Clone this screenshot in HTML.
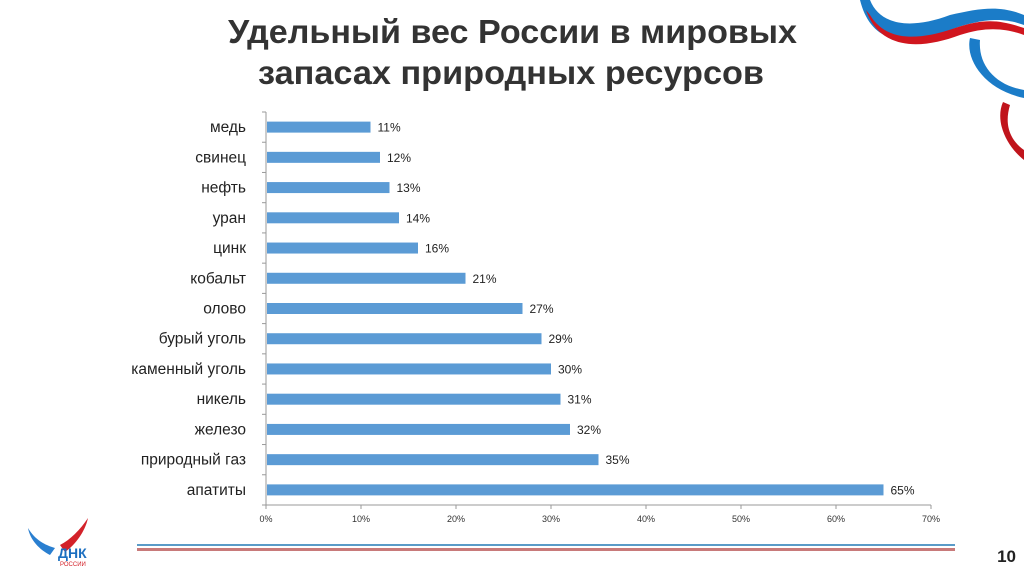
<!DOCTYPE html>
<html><head><meta charset="utf-8"><style>
body{margin:0;width:1024px;height:574px;background:#fff;overflow:hidden;font-family:"Liberation Sans",sans-serif}
</style></head><body>
<svg width="1024" height="574">
<g>
<path d="M860,0 C870,40 900,50 950,30 C990,15 1010,20 1024,25 L1024,15 C1000,5 980,8 950,15 C910,30 880,25 870,0Z" fill="#1b7cc8"/>
<path d="M866,10 C880,50 920,50 960,35 C990,25 1010,30 1024,35 L1024,28 C1000,20 985,18 955,28 C915,42 885,40 870,15Z" fill="#d0161e"/>
<path d="M970,38 C965,60 985,90 1024,98 L1024,90 C995,85 978,65 980,40Z" fill="#1b7cc8"/>
<path d="M1003,102 C995,120 1005,145 1024,160 L1024,150 C1010,140 1004,125 1010,105Z" fill="#c0141c"/>
</g>
<text x="228" y="43" textLength="569" lengthAdjust="spacingAndGlyphs" font-size="33" font-weight="bold" fill="#333">Удельный вес России в мировых</text>
<text x="258" y="84" textLength="506" lengthAdjust="spacingAndGlyphs" font-size="33" font-weight="bold" fill="#333">запасах природных ресурсов</text>
<g id="chart"></g>
<g>
<path d="M28,528 C35,540 45,545 55,548 L50,555 C40,550 30,540 28,528Z" fill="#2a7fd0"/>
<path d="M88,518 C80,530 70,540 60,545 L65,552 C75,545 85,532 88,518Z" fill="#d3222a"/>
<text x="58" y="558" font-size="14" font-weight="bold" fill="#1b6fc0">ДНК</text>
<text x="60" y="566" font-size="6" fill="#d3222a">РОССИИ</text>
</g>
<rect x="137" y="544" width="818" height="2" fill="#5a9bc8"/>
<rect x="137" y="548" width="818" height="3" fill="#c87a7a"/>
<text x="1016" y="562" text-anchor="end" font-size="17" font-weight="bold" fill="#222">10</text>
</svg>
<script>
const categories=["медь","свинец","нефть","уран","цинк","кобальт","олово","бурый уголь","каменный уголь","никель","железо","природный газ","апатиты"];
const values=[11,12,13,14,16,21,27,29,30,31,32,35,65];
const ticks=[0,10,20,30,40,50,60,70];
const NS="http://www.w3.org/2000/svg";
const g=document.getElementById("chart");
const x0=266,x1=931,xmax=70,yTop=112,yBot=505;
const step=(yBot-yTop)/categories.length;
const xs=v=>x0+(x1-x0)*v/xmax;
const yc=i=>yTop+step*(i+0.5);
function el(t,a){const e=document.createElementNS(NS,t);for(const k in a)e.setAttribute(k,a[k]);g.appendChild(e);return e;}
let ax=el("line",{x1:x0,y1:yTop,x2:x0,y2:yBot,stroke:"#999"});


let bx=el("line",{x1:x0,y1:yBot,x2:x1,y2:yBot,stroke:"#999"});


for(let i=0;i<=categories.length;i++){el("line",{x1:x0-4,x2:x0,y1:yTop+step*i,y2:yTop+step*i,stroke:"#999"});}
ticks.forEach(t=>{
 el("line",{x1:xs(t),x2:xs(t),y1:yBot,y2:yBot+4,stroke:"#999"});
 const tx=el("text",{x:xs(t),y:yBot+17,"text-anchor":"middle","font-size":"9",fill:"#333"});
 tx.textContent=t+"%";
 
 
});
categories.forEach((c,i)=>{
 const y=yc(i);
 const r=el("rect",{x:x0+1,y:y-5.5,width:xs(values[i])-x0-1,height:11,fill:"#5b9bd5"});
 
 
 const l=el("text",{x:246,y:y+5,"text-anchor":"end","font-size":"15.5",fill:"#222"});
 l.textContent=c;
 
 
 const v=el("text",{x:xs(values[i])+7,y:y+4.5,"font-size":"12",fill:"#222"});
 v.textContent=values[i]+"%";
 
 
});
</script>
</body></html>
